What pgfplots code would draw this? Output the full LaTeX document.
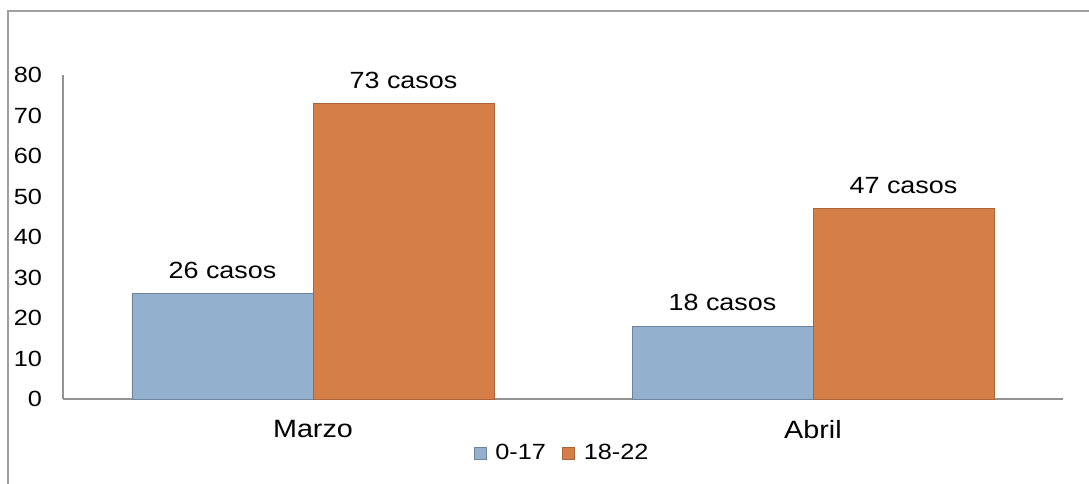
\documentclass[border=0pt]{standalone}
\usepackage{pgfplots}
\pgfplotsset{compat=1.18}
\usepackage{fontspec}
\setmainfont[FakeStretch=1.15]{Liberation Sans}
\definecolor{cblue}{HTML}{93B1CF}
\definecolor{corange}{HTML}{D67E48}
\begin{document}
\begin{tikzpicture}
\useasboundingbox (0,0) rectangle (544.5pt,241.5pt);
\begin{scope}
\clip (0,0) rectangle (544.5pt,241.5pt);
\draw[line width=1pt, color=gray!75] (4pt,-10pt) rectangle (560pt,236pt);
\end{scope}
\begin{axis}[
  at={(31.5pt,42pt)}, anchor=south west,
  scale only axis, width=500pt, height=162pt,
  xmin=-0.5, xmax=1.5, ymin=0, ymax=80,
  axis x line=bottom, axis y line=left,
  axis line style={-, draw=gray!85, line width=0.6pt},
  xtick={0,1}, xticklabels={Marzo,Abril},
  ytick={0,10,...,80},
  major tick length=0pt, tick style={draw=none},
  /pgf/number format/assume math mode=true,
  yticklabel style={xshift=-7pt, font=\fontsize{11}{13}\selectfont},
  xticklabel style={yshift=-7pt, font=\fontsize{12.5}{14}\selectfont},
  ybar, bar width=0.362,
  nodes near coords={\pgfmathprintnumber{\pgfplotspointmeta} casos},
  every node near coord/.append style={font=\fontsize{11.7}{13}\selectfont, text=black, yshift=4pt},
  legend style={at={(0.5,-0.1667)}, anchor=center, draw=none, fill=none,
    legend columns=2, font=\fontsize{11}{13}\selectfont,
    /tikz/every odd column/.append style={column sep=2.5pt},
    /tikz/every even column/.append style={column sep=6pt}},
  legend image code/.code={\draw[#1, bar shift=0pt] (0pt,-3pt) rectangle (6pt,3pt);},
]
\addplot[fill=cblue, draw=cblue!75!black, bar shift=-0.181] coordinates {(0,26) (1,18)};
\addplot[fill=corange, draw=corange!80!black, bar shift=0.181] coordinates {(0,73) (1,47)};
\legend{0-17,18-22}
\end{axis}
\end{tikzpicture}
\end{document}
